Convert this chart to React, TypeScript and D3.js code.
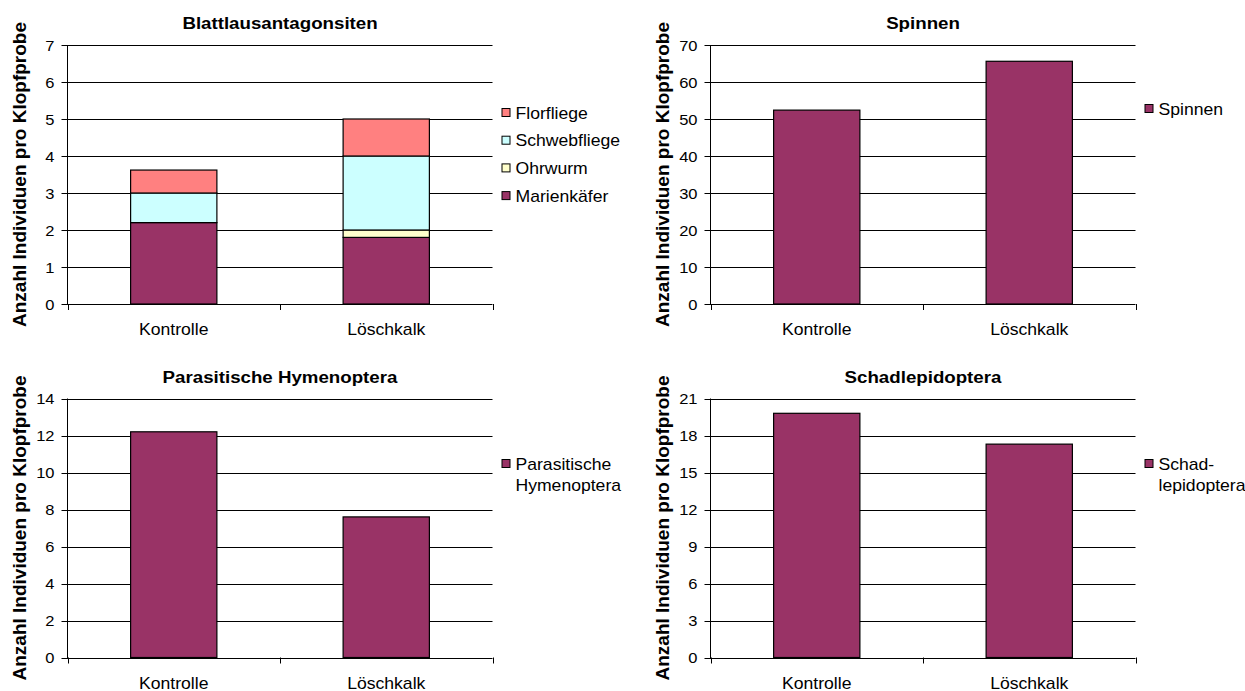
import React from "react";
import * as d3 from "d3";

// Treatments on the x axis
const categories = ["Kontrolle", "Löschkalk"];

// Blattlausantagonisten (stacked)
const marienkaefer = [2.2, 1.8];
const ohrwurm = [0, 0.2];
const schwebfliege = [0.8, 2.0];
const florfliege = [0.62, 1.0];

// Single-series panels
const spinnen = [52.4, 65.6];
const parasitischeHymenoptera = [12.2, 7.6];
const schadlepidoptera = [19.8, 17.3];

// Y tick labels for each panel
const ticksBlattlaus = [0, 1, 2, 3, 4, 5, 6, 7];
const ticksSpinnen = [0, 10, 20, 30, 40, 50, 60, 70];
const ticksHymenoptera = [0, 2, 4, 6, 8, 10, 12, 14];
const ticksLepidoptera = [0, 3, 6, 9, 12, 15, 18, 21];

const Y_LABEL = "Anzahl Individuen pro Klopfprobe";

const PURPLE = "#993366";
const YELLOW = "#FFFFCC";
const CYAN = "#CCFFFF";
const SALMON = "#FF8080";

const FONT = "'Liberation Sans', Arial, Helvetica, sans-serif";
const SX = 1.1;

const PLOT_W = 425;
const PLOT_H = 259;

type Series = { name: string; color: string; values: number[] };
type LegendItem = { lines: string[]; color: string };

function Txt({
  x,
  y,
  size,
  bold,
  anchor,
  children,
}: {
  x: number;
  y: number;
  size: number;
  bold?: boolean;
  anchor?: "start" | "middle" | "end";
  children: React.ReactNode;
}) {
  return (
    <g transform={`translate(${x},${y}) scale(${SX},1)`}>
      <text
        x={0}
        y={0}
        fontSize={size}
        fontWeight={bold ? "bold" : "normal"}
        textAnchor={anchor || "start"}
        fontFamily={FONT}
        fill="#000"
      >
        {children}
      </text>
    </g>
  );
}

function Panel({
  left,
  top,
  title,
  ticks,
  series,
  legend,
  legendTop,
}: {
  left: number;
  top: number;
  title: string;
  ticks: number[];
  series: Series[];
  legend: LegendItem[];
  legendTop: number;
}) {
  const x0 = left;
  const x1 = left + PLOT_W;
  const y0 = top;
  const y1 = top + PLOT_H;

  const x = d3
    .scaleBand<string>()
    .domain(categories)
    .range([x0, x1])
    .paddingInner(0.594)
    .paddingOuter(0.297);
  const y = d3
    .scaleLinear()
    .domain([0, ticks[ticks.length - 1]])
    .range([y1, y0]);

  const rows = categories.map((c, i) => {
    const o: Record<string, number | string> = { cat: c };
    series.forEach((s) => (o[s.name] = s.values[i]));
    return o;
  });
  const stacked = d3
    .stack<Record<string, number | string>>()
    .keys(series.map((s) => s.name))(rows as any);

  const bounds = [x0, (x0 + x1) / 2, x1];

  return (
    <g>
      <Txt x={(x0 + x1) / 2} y={y0 - 16} size={17} bold anchor="middle">
        {title}
      </Txt>

      {/* gridlines and y ticks */}
      {ticks.map((t) => (
        <g key={t}>
          <line
            x1={x0 - 6}
            x2={x1}
            y1={Math.round(y(t)) + 0.5}
            y2={Math.round(y(t)) + 0.5}
            stroke="#000"
            strokeWidth={1}
          />
          <Txt x={x0 - 13} y={y(t) + 5.5} size={15} anchor="end">
            {t}
          </Txt>
        </g>
      ))}

      {/* y axis */}
      <line x1={x0} x2={x0} y1={y0} y2={y1 + 0.5} stroke="#000" strokeWidth={1} />
      {bounds.map((b, i) => (
        <line
          key={i}
          x1={Math.round(b) + 0.5}
          x2={Math.round(b) + 0.5}
          y1={y1}
          y2={y1 + 6}
          stroke="#000"
          strokeWidth={1}
        />
      ))}

      {/* bars */}
      {stacked.map((layer, li) =>
        layer.map((d, ci) => (
          <rect
            key={`${li}-${ci}`}
            x={x(categories[ci])!}
            y={y(d[1])}
            width={x.bandwidth()}
            height={Math.max(0, y(d[0]) - y(d[1]))}
            fill={series[li].color}
            stroke="#000"
            strokeWidth={1.2}
          />
        ))
      )}

      {/* category labels */}
      {categories.map((c) => (
        <Txt key={c} x={x(c)! + x.bandwidth() / 2} y={y1 + 31} size={16} anchor="middle">
          {c}
        </Txt>
      ))}

      {/* y axis title */}
      <text
        transform={`translate(${x0 - 48.5},${(y0 + y1) / 2}) rotate(-90)`}
        textAnchor="middle"
        dominantBaseline="central"
        fontSize={19}
        fontWeight="bold"
        fontFamily={FONT}
      >
        {Y_LABEL}
      </text>

      {/* legend */}
      {(() => {
        let cy = y0 + legendTop;
        return legend.map((item, i) => {
          const yc = cy;
          cy += item.lines.length > 1 ? 21 * item.lines.length + 7 : 27.7;
          return (
            <g key={i}>
              <rect
                x={x1 + 9.5}
                y={yc - 4.5}
                width={8}
                height={8}
                fill={item.color}
                stroke="#000"
                strokeWidth={1}
              />
              {item.lines.map((ln, k) => (
                <Txt key={k} x={x1 + 23} y={yc + 5.5 + k * 21} size={16}>
                  {ln}
                </Txt>
              ))}
            </g>
          );
        });
      })()}
    </g>
  );
}

export default function App() {
  const blattSeries: Series[] = [
    { name: "Marienkäfer", color: PURPLE, values: marienkaefer },
    { name: "Ohrwurm", color: YELLOW, values: ohrwurm },
    { name: "Schwebfliege", color: CYAN, values: schwebfliege },
    { name: "Florfliege", color: SALMON, values: florfliege },
  ];
  const blattLegend: LegendItem[] = [...blattSeries]
    .reverse()
    .map((s) => ({ lines: [s.name], color: s.color }));

  return (
    <div style={{ position: "absolute", left: 0, top: 0 }}>
      <svg width={1245} height={691} style={{ display: "block", background: "#fff" }}>
        <rect width={1245} height={691} fill="#fff" />
        <Panel
          left={67.5}
          top={45}
          title="Blattlausantagonsiten"
          ticks={ticksBlattlaus}
          series={blattSeries}
          legend={blattLegend}
          legendTop={68}
        />
        <Panel
          left={710.5}
          top={45}
          title="Spinnen"
          ticks={ticksSpinnen}
          series={[{ name: "Spinnen", color: PURPLE, values: spinnen }]}
          legend={[{ lines: ["Spinnen"], color: PURPLE }]}
          legendTop={64}
        />
        <Panel
          left={67.5}
          top={398.5}
          title="Parasitische Hymenoptera"
          ticks={ticksHymenoptera}
          series={[
            { name: "Parasitische Hymenoptera", color: PURPLE, values: parasitischeHymenoptera },
          ]}
          legend={[{ lines: ["Parasitische", "Hymenoptera"], color: PURPLE }]}
          legendTop={65.5}
        />
        <Panel
          left={710.5}
          top={398.5}
          title="Schadlepidoptera"
          ticks={ticksLepidoptera}
          series={[{ name: "Schadlepidoptera", color: PURPLE, values: schadlepidoptera }]}
          legend={[{ lines: ["Schad-", "lepidoptera"], color: PURPLE }]}
          legendTop={65.5}
        />
      </svg>
    </div>
  );
}
